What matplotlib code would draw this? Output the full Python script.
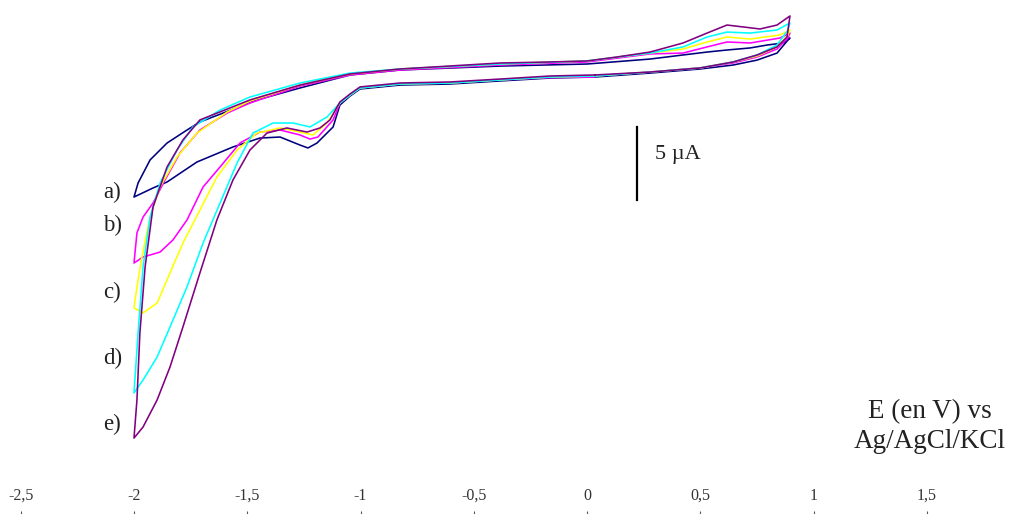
import matplotlib
matplotlib.use("Agg")
import matplotlib.pyplot as plt

plt.rcParams['font.family'] = ['Liberation Serif', 'DejaVu Serif']

# Potential (V vs Ag/AgCl/KCl) and current (µA) for each loop
# order: lower branch 0 V -> -2 V, upper branch -2 V -> +0.9 V, lower branch +0.9 V -> 0 V
common_lower_V = [0.035, -0.163, -0.384, -0.605, -0.826, -1.002, -1.046, -1.091]
common_lower_I = [-0.41, -0.48, -0.68, -0.89, -0.96, -1.23, -1.71, -2.26]

a_V = common_lower_V + [-1.121, -1.192, -1.232, -1.267, -1.355, -1.444, -1.563, -1.722, -1.854, -1.916, -2.0,
                        -1.982, -1.929, -1.854, -1.766, -1.709, -1.457, -1.267, -1.046, -0.826, -0.384, 0.0,
                        0.278, 0.424, 0.530, 0.618, 0.720, 0.795, 0.865, 0.896,
                        0.887, 0.839, 0.751, 0.645, 0.499, 0.278, 0.035]
a_I = [-0.48, -0.55, -0.75, -0.96, -1.03, -1.30, -1.78, -2.40] + [-3.90, -5.00, -5.34, -5.14, -4.59, -4.66, -5.27, -6.30, -7.67, -8.08, -8.70,
                        -7.74, -6.16, -5.00, -4.11, -3.56, -2.05, -1.23, -0.34, 0.0, 0.27, 0.41,
                        0.75, 1.03, 1.23, 1.37, 1.51, 1.71, 1.85, 2.19,
                        2.05, 1.16, 0.68, 0.34, 0.07, -0.21, -0.48]

b_V = common_lower_V + [-1.121, -1.188, -1.223, -1.267, -1.355, -1.444, -1.532, -1.620, -1.695, -1.766, -1.828, -1.885, -1.960, -2.0,
                        -1.987, -1.960, -1.916, -1.863, -1.797, -1.709, -1.589, -1.488, -1.267, -1.046, -0.826, -0.384, 0.0,
                        0.278, 0.424, 0.530, 0.618, 0.720, 0.852, 0.896,
                        0.887, 0.839, 0.751, 0.645, 0.499, 0.278, 0.035]
b_I = [-0.48, -0.52, -0.68, -0.89, -0.96, -1.23, -1.71, -2.26] + [-3.42, -4.59, -4.73, -4.45, -4.11, -4.25, -5.00, -6.64, -8.01, -10.27, -11.64, -12.47, -12.81, -13.22,
                        -11.16, -10.07, -9.11, -7.53, -5.68, -4.11, -2.95, -2.26, -1.10, -0.34, 0.0, 0.34, 0.55,
                        1.10, 1.16, 1.58, 1.92, 1.85, 2.19, 2.53,
                        2.19, 1.44, 0.89, 0.48, 0.14, -0.14, -0.41]

c_V = common_lower_V + [-1.148, -1.210, -1.267, -1.355, -1.457, -1.545, -1.634, -1.709, -1.784, -1.841, -1.898, -1.960, -2.0,
                        -1.987, -1.965, -1.929, -1.885, -1.810, -1.722, -1.589, -1.488, -1.267, -1.046, -0.826, -0.384, 0.0,
                        0.278, 0.424, 0.530, 0.618, 0.720, 0.852, 0.896,
                        0.887, 0.839, 0.751, 0.645, 0.499, 0.278, 0.035]
c_I = common_lower_I + [-3.63, -4.45, -4.25, -3.97, -4.32, -5.48, -7.33, -9.59, -11.85, -13.90, -15.96, -16.64, -16.30,
                        -14.86, -12.81, -10.07, -8.01, -5.96, -4.32, -2.88, -2.12, -1.03, -0.27, 0.07, 0.41, 0.62,
                        1.16, 1.44, 1.92, 2.26, 2.12, 2.40, 2.74,
                        2.40, 1.58, 0.96, 0.55, 0.14, -0.14, -0.41]

d_V = common_lower_V + [-1.148, -1.223, -1.298, -1.386, -1.475, -1.545, -1.620, -1.695, -1.766, -1.841, -1.898, -1.960, -2.0,
                        -1.982, -1.960, -1.929, -1.885, -1.810, -1.740, -1.620, -1.488, -1.267, -1.046, -0.826, -0.384, 0.0,
                        0.278, 0.424, 0.530, 0.618, 0.720, 0.839, 0.896,
                        0.887, 0.839, 0.751, 0.645, 0.499, 0.278, 0.035]
d_I = common_lower_I + [-3.22, -3.90, -3.63, -3.63, -4.32, -6.37, -9.11, -11.85, -14.86, -17.60, -19.66, -21.23, -22.12,
                        -18.01, -13.49, -10.07, -7.74, -5.48, -3.90, -2.74, -1.85, -0.89, -0.21, 0.07, 0.41, 0.62,
                        1.16, 1.58, 2.26, 2.60, 2.53, 2.74, 3.22,
                        2.74, 1.71, 1.03, 0.55, 0.14, -0.14, -0.41]

e_V = common_lower_V + [-1.135, -1.179, -1.236, -1.325, -1.413, -1.488, -1.563, -1.634, -1.709, -1.784, -1.841, -1.898, -1.960, -2.0,
                        -1.987, -1.974, -1.951, -1.916, -1.854, -1.784, -1.709, -1.488, -1.267, -1.046, -0.826, -0.384, -0.163, 0.0,
                        0.132, 0.278, 0.424, 0.530, 0.618, 0.689, 0.764, 0.839, 0.896,
                        0.883, 0.839, 0.751, 0.645, 0.499, 0.278, 0.035]
e_I = [-0.34, -0.41, -0.62, -0.82, -0.89, -1.16, -1.64, -2.19] + [-3.42, -3.97, -4.25, -3.97, -4.32, -5.48, -7.53, -10.27, -13.90, -17.60, -20.34, -22.60, -24.45, -25.21,
                        -22.60, -18.01, -13.49, -9.38, -6.64, -4.79, -3.42, -2.05, -1.03, -0.27, 0.07, 0.48, 0.55, 0.62,
                        0.89, 1.23, 1.85, 2.53, 3.08, 2.95, 2.81, 3.08, 3.70,
                        2.26, 1.58, 1.03, 0.55, 0.14, -0.14, -0.34]

series_V = [a_V, b_V, c_V, d_V, e_V]
series_I = [a_I, b_I, c_I, d_I, e_I]
series_labels = ['a)', 'b)', 'c)', 'd)', 'e)']
series_colors = ['#00007f', '#ff00ff', '#ffff00', '#00ffff', '#800080']
label_I = [-8.36, -10.68, -15.21, -19.73, -24.25]

xticks = [-2.5, -2, -1.5, -1, -0.5, 0, 0.5, 1, 1.5]
xticklabels = ['-2,5', '-2', '-1,5', '-1', '-0,5', '0', '0,5', '1', '1,5']

fig = plt.figure(figsize=(10.23, 5.14), dpi=100)
ax = fig.add_axes([0, 0, 1, 1])
ax.set_xlim(-2.5916, 1.9249)
ax.set_ylim(-30.41, 4.795)

for V, I, col in zip(series_V, series_I, series_colors):
    ax.plot(V, I, color=col, lw=1.15, solid_joinstyle='round')

for lab, yi in zip(series_labels, label_I):
    ax.text(-2.135, yi, lab, fontsize=16.5, ha='left', va='center', color='#222222')

# scale bar 5 µA
ax.plot([0.221, 0.221], [-3.90, -8.90], color='black', lw=1.6)
ax.text(0.300, -5.82, '5 µA', fontsize=16, ha='left', va='center', color='#222222')

ax.text(1.514, -24.4, 'E (en V) vs\nAg/AgCl/KCl', fontsize=19.5, ha='center', va='center',
        linespacing=1.25, color='#222222')

for s in ax.spines.values():
    s.set_visible(False)
ax.set_yticks([])
ax.set_xticks(xticks)
ax.set_xticklabels(xticklabels, fontsize=11.5, color='#333333')
ax.tick_params(axis='x', direction='in', length=2.2, width=0.8, color='#555555', pad=-19)

fig.savefig('out.png', dpi=100)
